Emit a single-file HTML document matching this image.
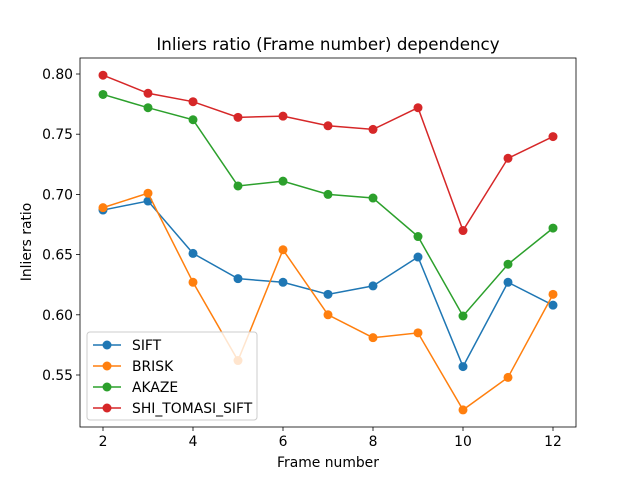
<!DOCTYPE html>
<html><head><meta charset="utf-8"><style>
body{margin:0;background:#fff;}
svg text{font-family:"DejaVu Sans","Liberation Sans",sans-serif;fill:#000;}
</style></head><body>
<svg id="chart" width="640" height="480" xmlns="http://www.w3.org/2000/svg">
<rect width="640" height="480" fill="#fff"/>
<g id="plot"></g>
</svg>
<script>
const frames=[2,3,4,5,6,7,8,9,10,11,12];
const sift=[0.687,0.6945,0.651,0.630,0.627,0.617,0.624,0.648,0.557,0.627,0.608];
const brisk=[0.689,0.701,0.627,0.562,0.654,0.600,0.581,0.585,0.521,0.548,0.617];
const akaze=[0.783,0.772,0.762,0.707,0.711,0.700,0.697,0.665,0.599,0.642,0.672];
const shi=[0.799,0.784,0.777,0.764,0.765,0.757,0.754,0.772,0.670,0.730,0.748];
const seriesNames=["SIFT","BRISK","AKAZE","SHI_TOMASI_SIFT"];
const xTicks=[2,4,6,8,10,12];
const yTicks=[0.55,0.60,0.65,0.70,0.75,0.80];
const colors=["#1f77b4","#ff7f0e","#2ca02c","#d62728"];
const NS="http://www.w3.org/2000/svg";
const g=document.getElementById('plot');
const L=80,R=576,T=58,B=427;
const FS=13.9;
const xs=v=>103+(v-2)*45;
const ys=v=>74+(0.80-v)/0.05*60.2;
function mk(t,a,p){const e=document.createElementNS(NS,t);for(const k in a)e.setAttribute(k,a[k]);(p||g).appendChild(e);return e;}
let t=mk('text',{x:328,y:50,'text-anchor':'middle','font-size':16.7});t.textContent='Inliers ratio (Frame number) dependency';

xTicks.forEach(v=>{mk('line',{x1:xs(v),x2:xs(v),y1:B,y2:B+4,stroke:'#000','stroke-width':0.8});
 const e=mk('text',{x:xs(v),y:B+19,'text-anchor':'middle','font-size':FS});e.textContent=v;
 });
yTicks.forEach(v=>{mk('line',{x1:L-4,x2:L,y1:ys(v),y2:ys(v),stroke:'#000','stroke-width':0.8});
 const e=mk('text',{x:L-7,y:ys(v)+5,'text-anchor':'end','font-size':FS});e.textContent=v.toFixed(2);
 });
t=mk('text',{x:328,y:467,'text-anchor':'middle','font-size':FS});t.textContent='Frame number';

t=mk('text',{x:31,y:242,'text-anchor':'middle','font-size':FS,transform:'rotate(-90 31 242)'});t.textContent='Inliers ratio';

[sift,brisk,akaze,shi].forEach((s,i)=>{
 const pl=mk('polyline',{points:s.map((v,j)=>xs(frames[j])+','+ys(v)).join(' '),fill:'none',stroke:colors[i],'stroke-width':1.5});
 
 s.forEach((v,j)=>{const c=mk('circle',{cx:xs(frames[j]),cy:ys(v),r:4.5,fill:colors[i]});
  });
});
const fr=mk('rect',{x:L,y:T,width:R-L,height:B-T,fill:'none',stroke:'#000','stroke-width':0.8});

const lg=mk('g',{});
mk('rect',{x:87,y:332,width:170,height:88,rx:3,fill:'#fff','fill-opacity':0.8,stroke:'#ccc'},lg);
seriesNames.forEach((n,i)=>{const y=345+i*21;
 mk('line',{x1:93,x2:121,y1:y,y2:y,stroke:colors[i],'stroke-width':1.5},lg);
 mk('circle',{cx:107,cy:y,r:4.5,fill:colors[i]},lg);
 const e=mk('text',{x:132,y:y+5,'font-size':FS},lg);e.textContent=n;
 });
</script>
</body></html>
